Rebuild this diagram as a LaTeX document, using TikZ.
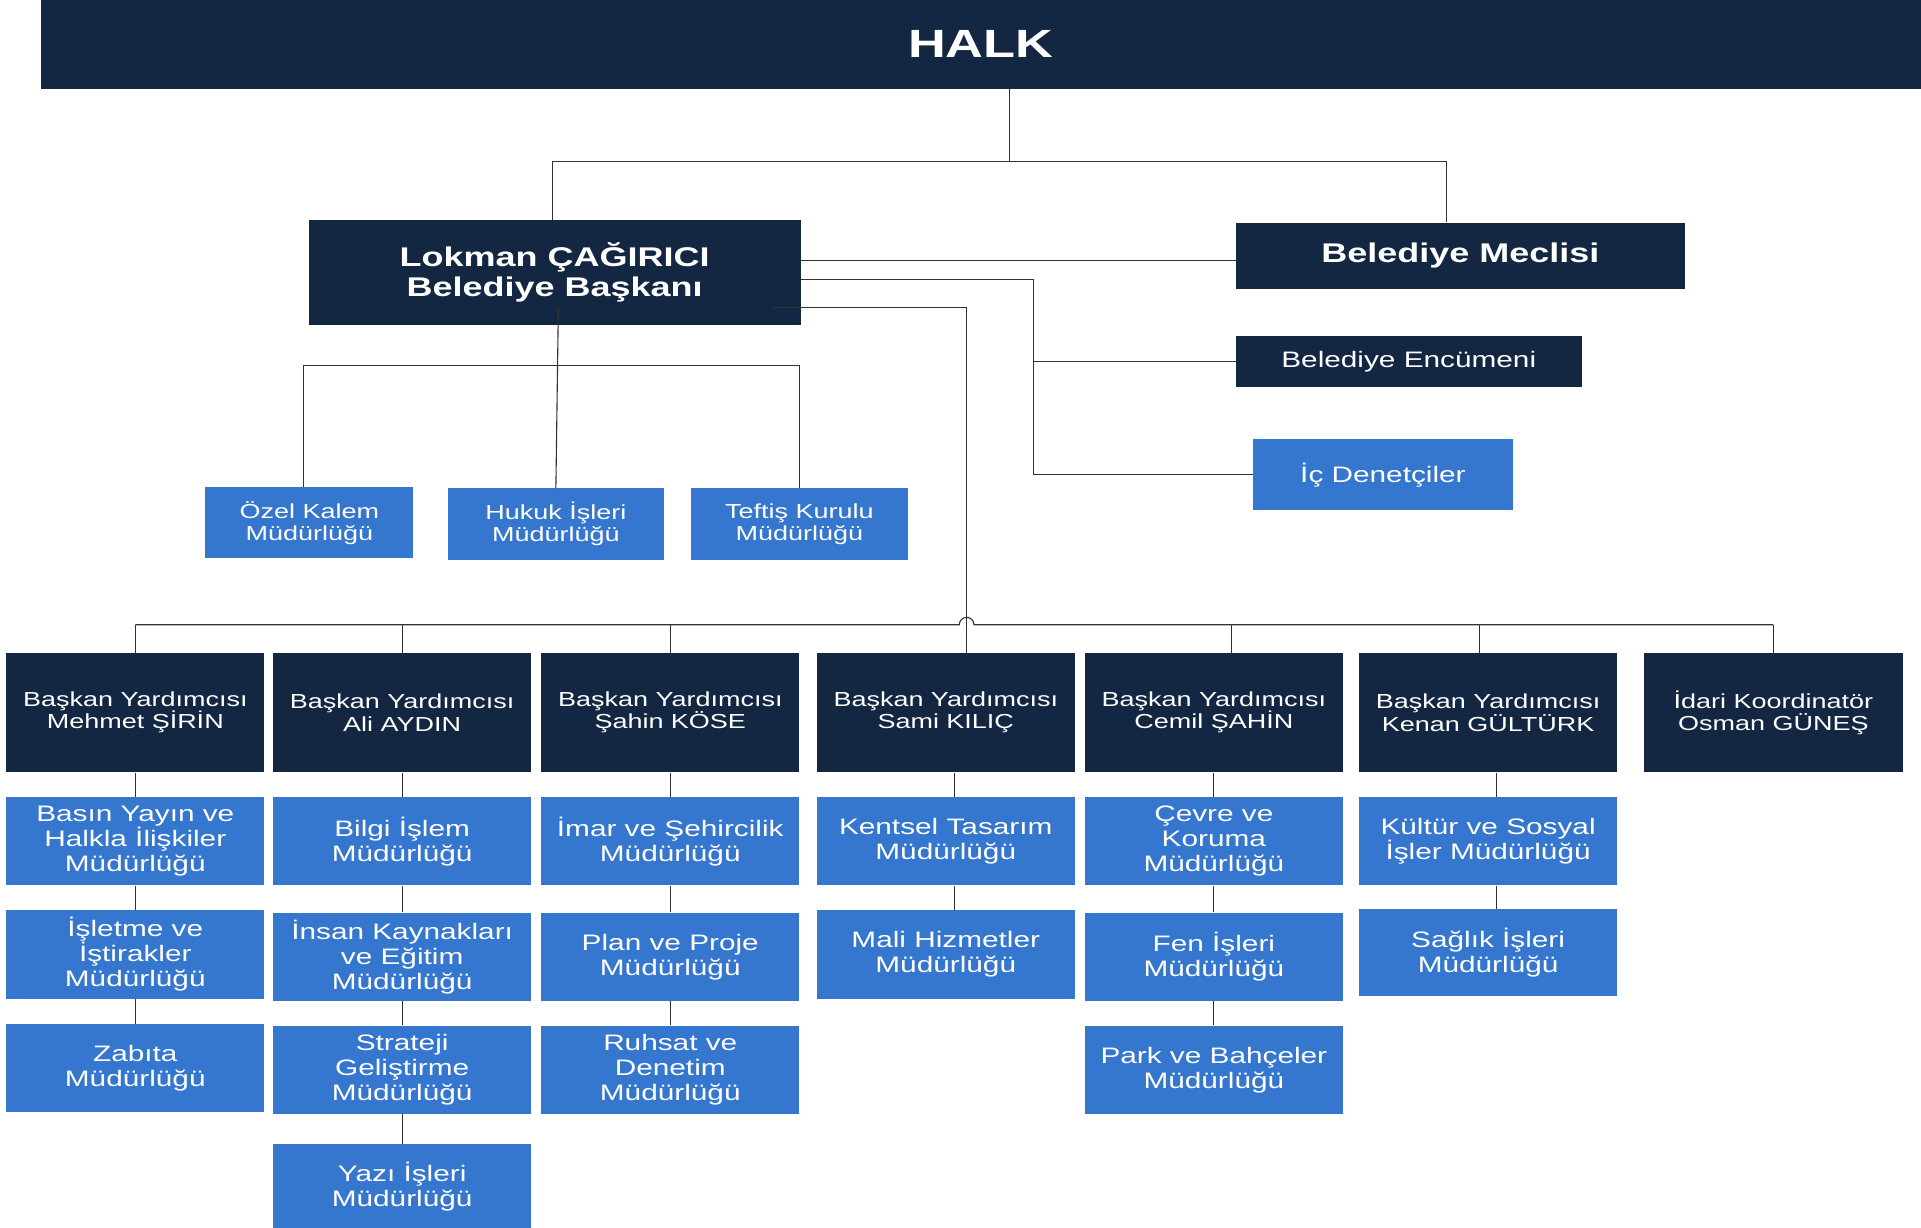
\documentclass[tikz,border=0pt]{standalone}
\usepackage{fontspec}
\setmainfont{Liberation Sans}[FakeStretch=1.33]
\definecolor{navy}{HTML}{132642}
\definecolor{blu}{HTML}{3576CE}
\tikzset{
 base/.style={inner sep=0pt, align=center, text=white, anchor=center},
 dk/.style={base, fill=navy},
 bl/.style={base, fill=blu},
 ln/.style={draw=black!80, line width=0.9pt},
 fs/.style={font=\fontsize{16.5}{18}\selectfont},
 fm/.style={font=\fontsize{18.2}{20.2}\selectfont},
 fb/.style={font=\bfseries\fontsize{22}{25}\selectfont},
 vpbox/.style={dk, fs, minimum width=210pt, minimum height=97pt},
 dept/.style={bl, fm, minimum width=210pt, minimum height=72pt},
 smalldept/.style={bl, fs, minimum height=58pt},
}
\begin{document}
\begin{tikzpicture}[x=1pt,y=-1pt]
\useasboundingbox (0,0) rectangle (1562,998.5);
% top
\node[dk, minimum width=1529pt, minimum height=72pt, font=\bfseries\fontsize{32}{36}\selectfont] (halk) at (797.5,36) {HALK};
\node[dk, fb, minimum width=400pt, minimum height=85pt] (lokman) at (451,221.5) {Lokman ÇAĞIRICI\\Belediye Başkanı};
\node[dk, fb, minimum width=365pt, minimum height=54pt] (meclis) at (1187.5,208) {Belediye Meclisi};
\node[dk, fm, minimum width=281pt, minimum height=42pt] (encumen) at (1145.5,294) {Belediye Encümeni};
\node[bl, fm, minimum width=211pt, minimum height=58pt] (ic) at (1124.5,386) {İç Denetçiler};
\node[smalldept, minimum width=169pt] (ozel) at (251.5,425) {Özel Kalem\\Müdürlüğü};
\node[smalldept, minimum width=176pt] (hukuk) at (452,426) {Hukuk İşleri\\Müdürlüğü};
\node[smalldept, minimum width=176pt] (teftis) at (650,426) {Teftiş Kurulu\\Müdürlüğü};
% vice presidents
\node[vpbox] (vp1) at (110,579.5) {Başkan Yardımcısı\\Mehmet ŞİRİN};
\node[vpbox] (vp2) at (327,579.5) {Başkan Yardımcısı\\Ali AYDIN};
\node[vpbox] (vp3) at (545,579.5) {Başkan Yardımcısı\\Şahin KÖSE};
\node[vpbox] (vp4) at (769,579.5) {Başkan Yardımcısı\\Sami KILIÇ};
\node[vpbox] (vp5) at (987,579.5) {Başkan Yardımcısı\\Cemil ŞAHİN};
\node[vpbox] (vp6) at (1210,579.5) {Başkan Yardımcısı\\Kenan GÜLTÜRK};
\node[vpbox] (vp7) at (1442,579.5) {İdari Koordinatör\\Osman GÜNEŞ};
% departments
\node[dept] (a1) at (110,684) {Basın Yayın ve\\Halkla İlişkiler\\Müdürlüğü};
\node[dept] (b1) at (110,776) {İşletme ve\\İştirakler\\Müdürlüğü};
\node[dept, minimum height=71pt] (c1) at (110,868.5) {Zabıta\\Müdürlüğü};
\node[dept] (a2) at (327,684) {Bilgi İşlem\\Müdürlüğü};
\node[dept] (b2) at (327,778) {İnsan Kaynakları\\ve Eğitim\\Müdürlüğü};
\node[dept] (c2) at (327,870) {Strateji\\Geliştirme\\Müdürlüğü};
\node[dept, minimum height=70pt] (d2) at (327,965) {Yazı İşleri\\Müdürlüğü};
\node[dept] (a3) at (545,684) {İmar ve Şehircilik\\Müdürlüğü};
\node[dept] (b3) at (545,778) {Plan ve Proje\\Müdürlüğü};
\node[dept] (c3) at (545,870) {Ruhsat ve\\Denetim\\Müdürlüğü};
\node[dept] (a4) at (769,684) {Kentsel Tasarım\\Müdürlüğü};
\node[dept] (b4) at (769,776) {Mali Hizmetler\\Müdürlüğü};
\node[dept] (a5) at (987,684) {Çevre ve\\Koruma\\Müdürlüğü};
\node[dept] (b5) at (987,778) {Fen İşleri\\Müdürlüğü};
\node[dept] (c5) at (987,870) {Park ve Bahçeler\\Müdürlüğü};
\node[dept] (a6) at (1210,684) {Kültür ve Sosyal\\İşler Müdürlüğü};
\node[dept, minimum height=71pt] (b6) at (1210,774.5) {Sağlık İşleri\\Müdürlüğü};
% helper coordinates
\coordinate (j1) at (821,131);
\coordinate (y212) at (0,212);
\coordinate (c227) at (840,227);
\coordinate (s250) at (628,250);
\coordinate (c250) at (786,250);
\coordinate (l250) at (454,250);
\coordinate (o297) at (247,297);
\coordinate (t297) at (650,297);
\coordinate (bus) at (0,508);
\coordinate (bs1) at (110,508);
\coordinate (bs2) at (327,508);
\coordinate (bs3) at (545,508);
\coordinate (bs5) at (1001,508);
\coordinate (bs6) at (1203,508);
\coordinate (bs7) at (1442,508);
\coordinate (k4) at (776,0);
\coordinate (k6) at (1217,0);
% connectors top
\draw[ln] (halk.south -| j1) -- (j1);
\draw[ln] ([xshift=-2pt]lokman.north) |- (j1) -| ([xshift=-11.5pt]meclis.north);
\draw[ln] (lokman.east |- y212) -- (meclis.west |- y212);
\draw[ln] (lokman.east |- c227) -- (c227) |- (ic.west);
\draw[ln] (c227 |- encumen.west) -- (encumen.west);
\draw[ln] (s250) -- (c250) -- (c250 |- vp4.north);
\draw[ln] (l250) -- (hukuk.north);
\draw[ln] (o297 |- ozel.north) -- (o297) -- (t297) -- (teftis.north);
% bus with hop
\draw[ln] (bs1) -- (780,508) arc[start angle=180, end angle=0, radius=6pt] -- (bs7);
\draw[ln] (bs1) -- (vp1.north);
\draw[ln] (bs2) -- (vp2.north);
\draw[ln] (bs3) -- (vp3.north);
\draw[ln] (bs5) -- (bs5 |- vp5.north);
\draw[ln] (bs6) -- (bs6 |- vp6.north);
\draw[ln] (bs7) -- (vp7.north);
% columns
\draw[ln] (vp1.south) -- (a1.north) (a1.south) -- (b1.north) (b1.south) -- (c1.north);
\draw[ln] (vp2.south) -- (a2.north) (a2.south) -- (b2.north) (b2.south) -- (c2.north) (c2.south) -- (d2.north);
\draw[ln] (vp3.south) -- (a3.north) (a3.south) -- (b3.north) (b3.south) -- (c3.north);
\draw[ln] (k4 |- vp4.south) -- (k4 |- a4.north) (k4 |- a4.south) -- (k4 |- b4.north);
\draw[ln] (vp5.south) -- (a5.north) (a5.south) -- (b5.north) (b5.south) -- (c5.north);
\draw[ln] (k6 |- vp6.south) -- (k6 |- a6.north) (k6 |- a6.south) -- (k6 |- b6.north);
\end{tikzpicture}
\end{document}
